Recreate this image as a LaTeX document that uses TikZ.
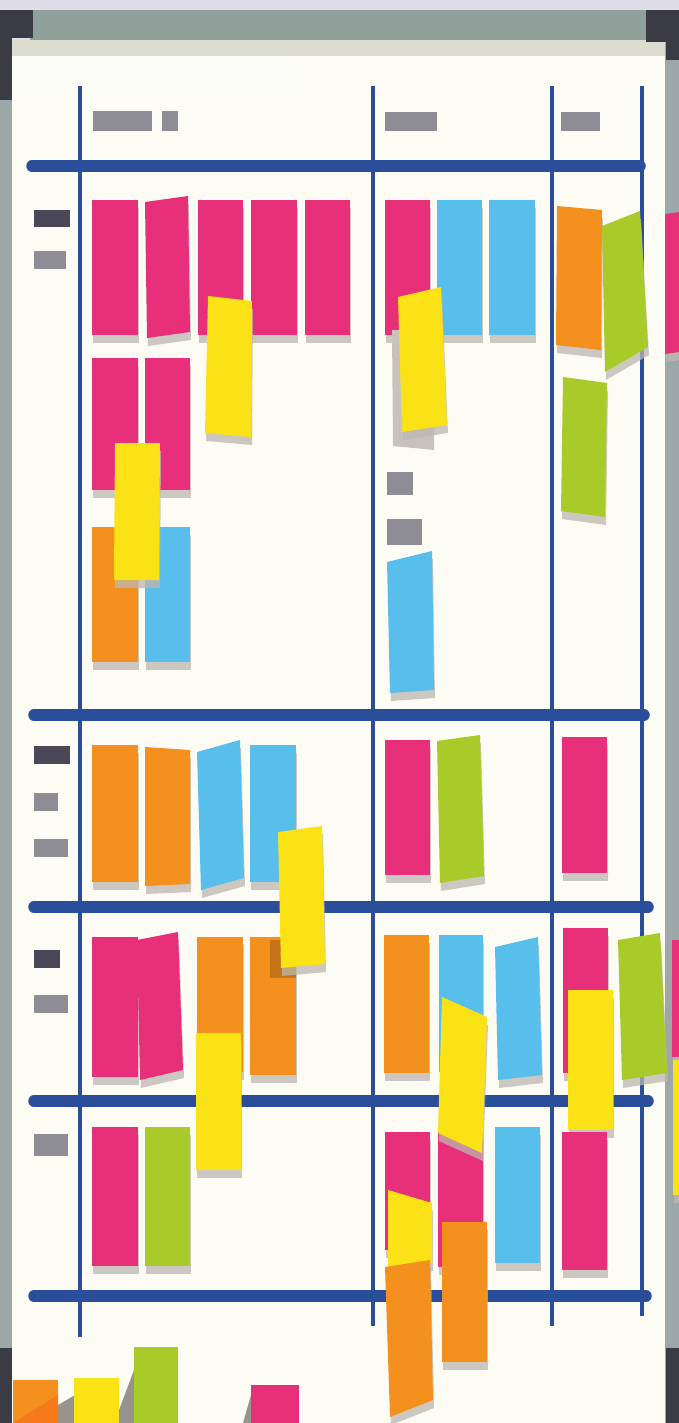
\documentclass[tikz,border=0pt]{standalone}
\usepackage{tikz}
\definecolor{pinkc}{HTML}{E8307A}
\definecolor{bluec}{HTML}{58BEEB}
\definecolor{orangec}{HTML}{F4901E}
\definecolor{yellowc}{HTML}{FBE216}
\definecolor{greenc}{HTML}{A8CB2A}
\definecolor{navyc}{HTML}{2B4E9B}
\definecolor{creamc}{HTML}{FCFBF4}
\definecolor{labdark}{HTML}{4A4756}
\definecolor{labgrey}{HTML}{8E8C94}
\definecolor{framegrey}{HTML}{9CA7A8}
\definecolor{framedark}{HTML}{3B3B45}
\definecolor{topbar}{HTML}{8FA09A}
\definecolor{topstrip}{HTML}{DCDDCF}
\definecolor{skyc}{HTML}{DEDDE8}
\definecolor{shadowc}{HTML}{BDB8B0}
\tikzset{
  rowline/.style={navyc, line width=11.5pt, line cap=round},
  colline/.style={navyc, line width=3.5pt},
  labd/.style={fill=labdark},
  labg/.style={fill=labgrey},
}
\newcommand\sticky[5]{%
  \begin{scope}[shift={(1,8)}]
    \fill[shadowc, opacity=0.75] #2 -- #3 -- #4 -- #5 -- cycle;
  \end{scope}
  \fill[#1] #2 -- #3 -- #4 -- #5 -- cycle;}
\begin{document}
\begin{tikzpicture}[x=1pt,y=-1pt]
\useasboundingbox (0,0) rectangle (679,1423);
% sky / background
\fill[skyc] (0,0) rectangle (679,1423);
% board surface
\fill[creamc] (12,40) rectangle (665,1423);
\fill[white, opacity=0.25] (14,56) rectangle (300,92);
% frame
\fill[topbar] (30,10) rectangle (648,40);
\fill[topstrip] (12,40) rectangle (665,56);
\fill[framegrey] (0,10) rectangle (12,1423);
\fill[framegrey] (665,40) rectangle (679,1423);
\fill[framedark] (0,10) rectangle (33,38);
\fill[framedark] (0,10) rectangle (12,100);
\fill[framedark] (646,10) rectangle (679,42);
\fill[framedark] (666,10) rectangle (679,60);
\fill[framedark] (0,1348) rectangle (12,1423);
\fill[framedark] (666,1348) rectangle (679,1423);
% header labels
\fill[labg] (93,111) rectangle (152,131);
\fill[labg] (162,111) rectangle (178,131);
\fill[labg] (385,112) rectangle (437,131);
\fill[labg] (561,112) rectangle (600,131);
% row labels
\fill[labd] (34,210) rectangle (70,227);
\fill[labg] (34,251) rectangle (66,269);
\fill[labd] (34,746) rectangle (70,764);
\fill[labg] (34,793) rectangle (58,811);
\fill[labg] (34,839) rectangle (68,857);
\fill[labd] (34,950) rectangle (60,968);
\fill[labg] (34,995) rectangle (68,1013);
\fill[labg] (34,1134) rectangle (68,1156);
% column lines
\draw[colline] (80,86) -- (80,1337);
\draw[colline] (373,86) -- (373,1326);
\draw[colline] (552,86) -- (552,1326);
\draw[colline] (642,86) -- (642,1316);
% row lines
\draw[rowline] (32,166) -- (640,166);
\draw[rowline] (34,715) -- (644,715);
\draw[rowline] (34,907) -- (648,907);
\draw[rowline] (34,1101) -- (648,1101);
\draw[rowline] (34,1296) -- (646,1296);
% labels inside column 2
\fill[labg] (387,472) rectangle (413,495);
\fill[labg] (387,519) rectangle (422,545);
% ---- row 1, column 1
\sticky{pinkc}{(92,200)}{(138,200)}{(138,335)}{(92,335)}
\sticky{pinkc}{(145,202)}{(188,196)}{(190,332)}{(147,338)}
\sticky{pinkc}{(198,200)}{(243,200)}{(243,335)}{(198,335)}
\sticky{pinkc}{(251,200)}{(297,200)}{(297,335)}{(251,335)}
\sticky{pinkc}{(305,200)}{(350,200)}{(350,335)}{(305,335)}
\sticky{yellowc}{(208,296)}{(252,301)}{(251,437)}{(205,433)}
\sticky{pinkc}{(92,358)}{(138,358)}{(138,490)}{(92,490)}
\sticky{pinkc}{(145,358)}{(190,358)}{(190,490)}{(145,490)}
\sticky{orangec}{(92,527)}{(138,527)}{(138,662)}{(92,662)}
\sticky{bluec}{(145,527)}{(190,527)}{(190,662)}{(145,662)}
\sticky{yellowc}{(115,443)}{(160,443)}{(159,580)}{(114,580)}
% ---- row 1, column 2
\sticky{pinkc}{(385,200)}{(430,200)}{(430,335)}{(385,335)}
\sticky{bluec}{(437,200)}{(482,200)}{(482,335)}{(437,335)}
\sticky{bluec}{(489,200)}{(535,200)}{(535,335)}{(489,335)}
\fill[shadowc!85!white] (392,330) -- (436,330) -- (434,450) -- (393,446) -- cycle;
\sticky{yellowc}{(398,297)}{(441,287)}{(447,425)}{(402,432)}
\sticky{bluec}{(387,562)}{(432,551)}{(434,690)}{(390,693)}
% ---- row 1, column 3
\sticky{orangec}{(557,206)}{(602,210)}{(601,350)}{(556,345)}
\sticky{greenc}{(602,226)}{(640,211)}{(648,347)}{(605,372)}
\sticky{greenc}{(563,377)}{(607,383)}{(605,517)}{(561,511)}
\sticky{pinkc}{(665,214)}{(679,212)}{(679,352)}{(665,354)}
% ---- row 2
\sticky{orangec}{(92,745)}{(138,745)}{(138,882)}{(92,882)}
\sticky{orangec}{(145,747)}{(190,750)}{(190,884)}{(145,886)}
\sticky{bluec}{(197,752)}{(240,740)}{(244,878)}{(201,890)}
\sticky{bluec}{(250,745)}{(296,745)}{(296,882)}{(250,882)}
\sticky{pinkc}{(385,740)}{(430,740)}{(430,875)}{(385,875)}
\sticky{greenc}{(437,741)}{(480,735)}{(484,876)}{(440,883)}
\sticky{pinkc}{(562,737)}{(607,737)}{(607,873)}{(562,873)}
% ---- row 3
\sticky{pinkc}{(92,937)}{(138,937)}{(138,1077)}{(92,1077)}
\sticky{pinkc}{(137,940)}{(178,932)}{(183,1070)}{(140,1080)}
\sticky{orangec}{(197,937)}{(243,937)}{(243,1072)}{(197,1072)}
\sticky{orangec}{(250,937)}{(296,937)}{(296,1075)}{(250,1075)}
\fill[orangec!80!black] (270,940) rectangle (296,978);
\sticky{yellowc}{(278,832)}{(322,826)}{(325,964)}{(281,968)}
\sticky{yellowc}{(196,1033)}{(241,1033)}{(241,1170)}{(196,1170)}
\sticky{orangec}{(384,935)}{(429,935)}{(429,1073)}{(384,1073)}
\sticky{bluec}{(439,935)}{(483,935)}{(483,1072)}{(439,1072)}
\sticky{bluec}{(495,947)}{(538,937)}{(542,1075)}{(498,1080)}
\sticky{pinkc}{(563,928)}{(608,928)}{(608,1073)}{(563,1073)}
\sticky{greenc}{(618,940)}{(660,933)}{(667,1073)}{(622,1080)}
\sticky{pinkc}{(672,940)}{(679,940)}{(679,1057)}{(672,1057)}
\sticky{yellowc}{(673,1060)}{(679,1060)}{(679,1195)}{(673,1195)}
\sticky{yellowc}{(568,990)}{(613,990)}{(613,1130)}{(568,1130)}
% ---- row 4
\sticky{pinkc}{(92,1127)}{(138,1127)}{(138,1266)}{(92,1266)}
\sticky{greenc}{(145,1127)}{(190,1127)}{(190,1266)}{(145,1266)}
\sticky{pinkc}{(385,1132)}{(430,1132)}{(430,1250)}{(385,1250)}
\sticky{pinkc}{(438,1133)}{(483,1133)}{(483,1267)}{(438,1267)}
\sticky{yellowc}{(442,997)}{(487,1017)}{(482,1153)}{(438,1133)}
\sticky{yellowc}{(388,1190)}{(432,1203)}{(432,1263)}{(388,1275)}
\sticky{orangec}{(442,1222)}{(487,1222)}{(487,1362)}{(442,1362)}
\sticky{orangec}{(385,1267)}{(430,1260)}{(433,1400)}{(390,1417)}
\sticky{bluec}{(495,1127)}{(540,1127)}{(540,1263)}{(495,1263)}
\sticky{pinkc}{(562,1132)}{(607,1132)}{(607,1270)}{(562,1270)}
% ---- notes falling out at the bottom
\fill[shadowc!80!black] (58,1405) -- (75,1395) -- (75,1423) -- (58,1423) -- cycle;
\fill[shadowc!80!black] (119,1410) -- (134,1370) -- (134,1423) -- (119,1423) -- cycle;
\fill[shadowc!80!black] (243,1423) -- (251,1395) -- (251,1423) -- cycle;
\fill[orangec] (13,1380) rectangle (58,1423);
\fill[orangec!85!red] (13,1423) -- (58,1395) -- (58,1423) -- cycle;
\fill[yellowc] (74,1378) rectangle (119,1423);
\fill[greenc] (134,1347) rectangle (178,1423);
\fill[pinkc] (251,1385) rectangle (299,1423);
\end{tikzpicture}
\end{document}
